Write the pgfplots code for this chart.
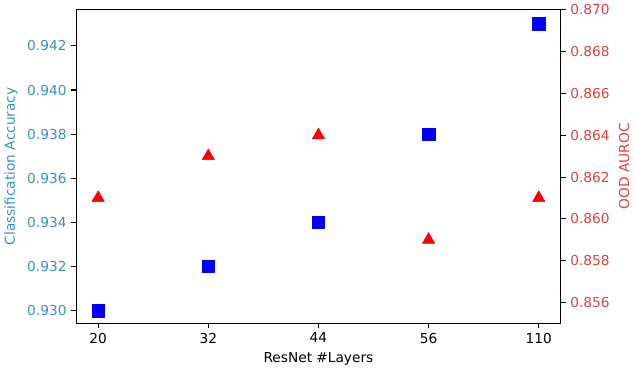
\documentclass[border=0pt]{standalone}
\usepackage{fontspec}
\setmainfont{DejaVu Sans}
\usepackage{pgfplots}
\pgfplotsset{compat=1.18}
\definecolor{accblue}{RGB}{58,141,200}
\definecolor{aucred}{RGB}{226,62,62}

\pgfplotsset{
  common/.style={
    width=353.5pt, height=229pt, scale only axis,
    xmin=-0.2, xmax=4.2,
    tick align=outside, major tick length=3.5pt,
    tick style={black, line width=0.8pt},
    axis line style={line width=0.8pt},
    font=\fontsize{10}{12}\selectfont,
    scaled y ticks=false,
    /pgf/number format/assume math mode=true,
    yticklabel style={/pgf/number format/fixed, /pgf/number format/fixed zerofill, /pgf/number format/precision=3},
  },
}

\begin{document}
\begin{tikzpicture}
\begin{axis}[common,
  axis y line*=left, axis x line*=bottom,
  xtick={0,1,2,3,4}, xticklabels={20,32,44,56,110},
  ymin=0.92942, ymax=0.94366,
  ytick={0.930,0.932,0.934,0.936,0.938,0.940,0.942},
  yticklabel style={text=accblue},
  ylabel={Classification Accuracy}, ylabel style={text=accblue},
  xlabel={ResNet \#Layers},
]
\addplot[only marks, mark=square*, mark size=4.6pt, blue] coordinates {
  (0,0.930) (1,0.932) (2,0.934) (3,0.938) (4,0.943)
};
\end{axis}
\begin{axis}[common,
  axis y line*=right, axis x line*=top,
  xtick=\empty, x tick style={draw=none},
  ymin=0.85501, ymax=0.87002,
  ytick={0.856,0.858,0.860,0.862,0.864,0.866,0.868,0.870},
  yticklabel style={text=aucred},
  ylabel={OOD AUROC}, ylabel style={text=aucred},
]
\addplot[only marks, mark=triangle*, mark size=5.2pt, red] coordinates {
  (0,0.861) (1,0.863) (2,0.864) (3,0.859) (4,0.861)
};
\end{axis}
\end{tikzpicture}
\end{document}
